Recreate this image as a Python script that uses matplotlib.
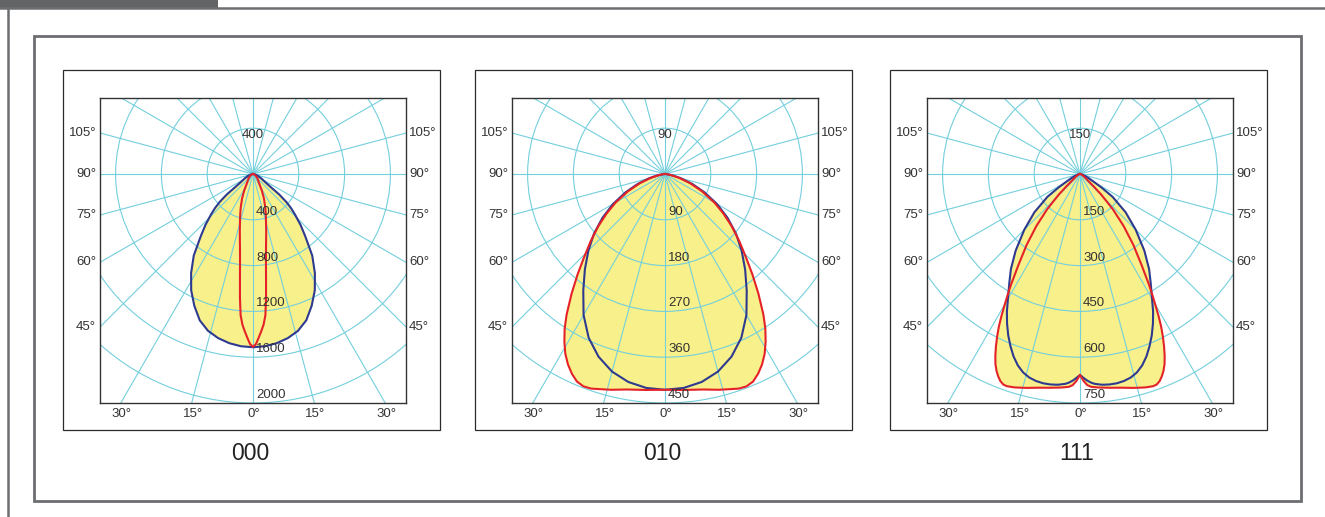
import numpy as np
import matplotlib
matplotlib.use('Agg')
import matplotlib.pyplot as plt
from matplotlib.patches import Rectangle, Circle

# figure size in pixels
W, H = 1325, 517

# panel names
titles = ['000', '010', '111']

# ring values (cd) for each panel
rings_000 = [400, 800, 1200, 1600, 2000]
rings_010 = [90, 180, 270, 360, 450]
rings_111 = [150, 300, 450, 600, 750]

# half curves, angle from nadir (deg) -> intensity, mirrored for the other side
# 000
red_000_deg = [0, 1, 2, 3, 4, 5, 6, 7, 8, 9, 10, 11, 12, 13, 15, 17, 20, 24, 28, 31, 35, 45, 60, 75, 90]
red_000_cd = [1510, 1485, 1430, 1375, 1320, 1240, 1090, 935, 815, 725, 655, 600, 553, 512, 440, 385, 315, 235, 165, 118, 88, 55, 25, 8, 0]
blue_000_deg = [0, 4, 8, 12, 16, 20, 24, 28, 32, 36, 40, 43, 46, 48, 50, 52, 54, 57, 62, 70, 80, 90]
blue_000_cd = [1513, 1508, 1492, 1465, 1425, 1360, 1260, 1150, 1020, 880, 710, 610, 510, 450, 380, 290, 180, 120, 82, 45, 15, 0]
# 010
red_010_deg = [0, 5, 10, 14, 17, 19, 21, 23, 25, 27, 29, 31, 33, 35, 38, 41, 44, 48, 52, 56, 60, 65, 70, 75, 80, 85, 90]
red_010_cd = [424, 426, 430, 437, 442, 446, 447, 443, 433, 420, 404, 384, 362, 337, 298, 262, 230, 196, 166, 138, 112, 80, 52, 28, 11, 3, 0]
blue_010_deg = [0, 5, 10, 15, 20, 25, 30, 35, 40, 45, 50, 55, 60, 65, 70, 75, 80, 85, 90]
blue_010_cd = [424, 422, 415, 402, 382, 355, 320, 280, 245, 213, 182, 150, 118, 86, 57, 32, 14, 4, 0]
# 111
red_111_deg = [0, 0.5, 1, 2, 3, 5, 8, 11, 14, 17, 19, 20, 21, 22, 23, 24, 25, 26, 27, 28, 29, 30, 31, 32, 34, 37, 40, 43, 46, 48, 50, 55, 60, 75, 90]
red_111_cd = [658, 668, 678, 692, 698, 702, 707, 713, 722, 731, 735, 734, 727, 715, 700, 681, 656, 628, 598, 566, 530, 492, 458, 425, 362, 290, 222, 158, 95, 58, 35, 20, 12, 4, 0]
blue_111_deg = [0, 1, 2, 3, 4, 6, 8, 10, 12, 14, 16, 18, 20, 22, 24, 26, 28, 30, 33, 36, 40, 45, 50, 55, 58, 61, 65, 70, 80, 90]
blue_111_cd = [658, 668, 677, 684, 689, 694, 696, 696, 693, 687, 676, 659, 636, 608, 578, 545, 510, 472, 425, 385, 328, 258, 195, 130, 82, 48, 30, 16, 5, 0]

# angle labels round the plot
side_angles = [45, 60, 75, 90, 105]
bottom_angles = [-30, -15, 0, 15, 30]

panels = [
    (titles[0], rings_000, red_000_deg, red_000_cd, blue_000_deg, blue_000_cd),
    (titles[1], rings_010, red_010_deg, red_010_cd, blue_010_deg, blue_010_cd),
    (titles[2], rings_111, red_111_deg, red_111_cd, blue_111_deg, blue_111_cd),
]

centers_x = [253, 665, 1080]
R = 229.0  # px of outermost ring

YELLOW = '#f8f08a'
CYAN = '#74cfdd'
BLUE = '#2e3a8f'
RED = '#e42228'
TXT = '#333333'
GRAY = '#6d6e71'

plt.rcParams['font.family'] = ['Liberation Sans', 'DejaVu Sans']


def px_rect(x0, y0, x1, y1):
    return [x0 / W, 1 - y1 / H, (x1 - x0) / W, (y1 - y0) / H]


def curve_xy(deg, cd, rmax):
    deg = np.asarray(deg, dtype=float)
    cd = np.asarray(cd, dtype=float)
    th = np.radians(np.concatenate([-deg[::-1], deg[1:]]))
    r = np.concatenate([cd[::-1], cd[1:]]) / rmax
    return r * np.sin(th), -r * np.cos(th)


fig = plt.figure(figsize=(W / 100, H / 100), dpi=100)

# page decoration
bg = fig.add_axes([0, 0, 1, 1])
bg.set_xlim(0, W)
bg.set_ylim(H, 0)
bg.axis('off')
bg.add_patch(Rectangle((0, 0), 218, 7.5, color='#636466', lw=0))
bg.plot([0, W], [8, 8], color=GRAY, lw=1.8)
bg.plot([8, 8], [8, H], color=GRAY, lw=1.8)
bg.add_patch(Rectangle((34, 36), 1267, 465, fill=False, ec=GRAY, lw=2.0))

for i, (title, rings, rdeg, rcd, bdeg, bcd) in enumerate(panels):
    cx = centers_x[i]
    # panel box + title
    bg.add_patch(Rectangle((cx - 190, 70), 377, 360, fill=False, ec='#2b2b2b', lw=0.9))
    bg.text(cx - 3, 453, title, ha='center', va='center', fontsize=16.5, color='#222222')

    ax = fig.add_axes(px_rect(cx - 153, 98, cx + 153, 403))
    xmin, xmax = -153 / R, 153 / R
    ax.set_xlim(xmin, xmax)
    ax.set_ylim(-1, 76 / R)
    ax.set_xticks([])
    ax.set_yticks([])
    for sp in ax.spines.values():
        sp.set_color('#333333')
        sp.set_linewidth(1.0)

    rmax = rings[-1]
    # yellow area
    for deg, cd in ((bdeg, bcd), (rdeg, rcd)):
        x, y = curve_xy(deg, cd, rmax)
        ax.fill(x, y, color=YELLOW, lw=0, zorder=1)

    # grid
    for a in np.arange(0, 360, 15):
        t = np.radians(a)
        ax.plot([0, 2 * np.sin(t)], [0, -2 * np.cos(t)], color=CYAN, lw=0.8, zorder=2)
    for v in rings:
        ax.add_patch(Circle((0, 0), v / rmax, fill=False, ec=CYAN, lw=0.8, zorder=2))

    # curves
    x, y = curve_xy(bdeg, bcd, rmax)
    ax.plot(x, y, color=BLUE, lw=1.5, zorder=3, solid_joinstyle='round')
    x, y = curve_xy(rdeg, rcd, rmax)
    ax.plot(x, y, color=RED, lw=1.5, zorder=4, solid_joinstyle='round')

    # ring labels
    for v in rings:
        ax.text(3 / R, -v / rmax + 2 / R, str(v), ha='left', va='bottom',
                fontsize=9.5, color=TXT, zorder=5)
    ax.text(0, rings[0] / rmax - 1 / R, str(rings[0]), ha='center', va='top',
            fontsize=9.5, color=TXT, zorder=5)

    # angle labels
    for a in side_angles:
        t = np.radians(a)
        yy = xmin * np.cos(t) / np.sin(t)
        ax.text(xmin - 4 / R, yy, f'{a}\u00b0', ha='right', va='center',
                fontsize=9.5, color=TXT, clip_on=False)
        ax.text(xmax + 3 / R, yy, f'{a}\u00b0', ha='left', va='center',
                fontsize=9.5, color=TXT, clip_on=False)
    for a in bottom_angles:
        ax.text(np.tan(np.radians(a)) + 1 / R, -1 - 11 / R, f'{abs(a)}\u00b0',
                ha='center', va='center', fontsize=9.5, color=TXT, clip_on=False)

fig.savefig('out.png', dpi=100)
